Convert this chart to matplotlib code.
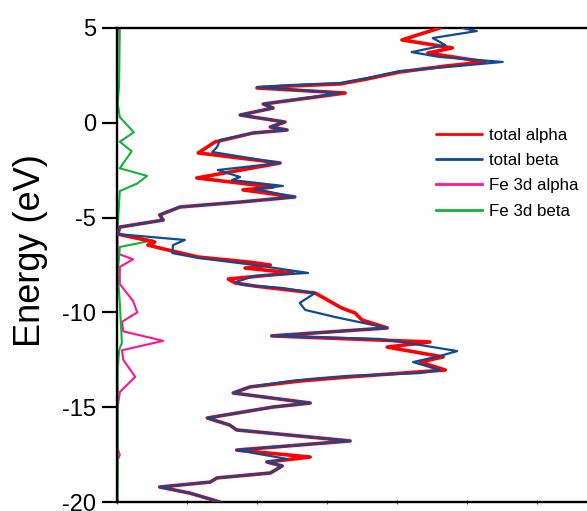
import matplotlib
matplotlib.use("Agg")
import matplotlib.pyplot as plt
import numpy as np

plt.rcParams['font.family'] = ['Liberation Sans', 'DejaVu Sans']

# ---- data (DOS in arbitrary units, energy in eV) ----
alpha_dos = [4.61, 4.07, 4.79, 4.44, 5.26, 4.71, 4.04, 3.57, 3.19, 2.47, 2.00, 3.26,
             2.09, 2.23, 1.76, 2.40, 2.19, 2.43, 1.94, 1.40, 1.16, 2.33, 1.14, 2.23,
             1.80, 2.54, 1.76, 0.90, 0.61, 0.66, 0.04, 0.01, 0.54, 0.44, 0.73, 1.16,
             1.87, 2.19, 1.83, 2.51, 2.04, 1.59, 1.69, 1.97, 2.83, 3.01, 3.21, 3.40,
             3.50, 3.86, 2.21, 4.47, 3.86, 4.66, 4.33, 4.69, 3.29, 2.61, 1.90, 1.66,
             2.76, 2.23, 1.29, 1.61, 1.71, 3.33, 1.71, 2.76, 2.14, 2.36, 2.19, 1.43,
             1.33, 0.61, 1.04, 1.47]
alpha_energy = [5.00, 4.37, 3.95, 3.68, 3.21, 3.00, 2.68, 2.31, 2.05, 1.94, 1.84, 1.57,
                0.99, 0.78, 0.41, 0.04, -0.22, -0.38, -0.54, -1.01, -1.59, -2.12, -2.91, -3.39,
                -3.54, -3.91, -4.18, -4.44, -4.86, -5.13, -5.50, -5.87, -6.29, -6.45, -6.71, -7.08,
                -7.34, -7.50, -7.66, -7.92, -8.08, -8.24, -8.45, -8.61, -8.98, -9.35, -9.77, -10.03,
                -10.40, -10.82, -11.24, -11.56, -11.83, -12.35, -12.62, -13.04, -13.41, -13.62, -13.93, -14.25,
                -14.78, -14.99, -15.57, -15.94, -16.20, -16.78, -17.26, -17.63, -17.89, -18.10, -18.47, -18.73,
                -18.95, -19.21, -19.53, -20.00]

beta_dos = [4.93, 5.14, 4.51, 4.69, 4.21, 4.61, 5.51, 4.71, 4.04, 3.57, 3.19, 2.47,
            2.00, 3.19, 2.09, 2.23, 1.76, 2.40, 2.19, 2.43, 1.94, 1.47, 1.43, 1.36,
            2.33, 1.44, 1.76, 1.64, 2.37, 1.97, 2.54, 1.76, 0.90, 0.61, 0.66, 0.04,
            0.01, 0.97, 0.80, 0.79, 1.16, 1.97, 2.73, 1.97, 1.69, 1.79, 2.36, 2.83,
            2.61, 2.69, 3.11, 3.86, 2.21, 3.76, 4.33, 4.86, 4.61, 4.23, 4.61, 4.33,
            3.29, 2.76, 2.47, 1.90, 1.66, 2.76, 2.23, 1.29, 1.61, 1.71, 3.33, 1.71,
            2.43, 2.14, 2.36, 2.19, 1.43, 1.33, 0.61, 1.04, 1.47]
beta_energy = [5.00, 4.84, 4.47, 4.10, 3.73, 3.47, 3.21, 2.94, 2.73, 2.36, 2.10, 1.99,
               1.89, 1.57, 0.99, 0.78, 0.41, 0.04, -0.22, -0.38, -0.54, -0.91, -1.28, -1.54,
               -2.12, -2.49, -2.86, -3.02, -3.33, -3.49, -3.91, -4.18, -4.44, -4.86, -5.13, -5.50,
               -5.87, -6.18, -6.45, -6.87, -7.13, -7.50, -7.92, -8.08, -8.40, -8.55, -8.71, -8.98,
               -9.50, -9.87, -10.24, -10.82, -11.24, -11.40, -11.72, -12.04, -12.30, -12.62, -13.04, -13.20,
               -13.35, -13.51, -13.62, -13.93, -14.25, -14.78, -14.99, -15.57, -15.94, -16.20, -16.78, -17.26,
               -17.73, -17.89, -18.10, -18.47, -18.73, -18.95, -19.21, -19.53, -20.00]

fe_alpha_dos = [0.01, 0.00, 0.00, 0.01, 0.23, 0.04, 0.04, 0.23, 0.29, 0.07, 0.09, 0.66,
                0.07, 0.09, 0.26, 0.04, 0.01, 0.01, 0.04, 0.01, 0.00]
fe_alpha_energy = [5.00, 2.00, -4.00, -6.90, -7.20, -7.60, -8.50, -9.40, -10.00, -10.50, -11.00, -11.50,
                   -12.00, -12.50, -13.40, -14.20, -15.00, -17.20, -17.50, -17.80, -20.00]

fe_beta_dos = [0.04, 0.03, 0.01, 0.04, 0.24, 0.04, 0.21, 0.04, 0.43, 0.29, 0.04, 0.01,
               0.04, 0.51, 0.04, 0.01, 0.04, 0.07, 0.03, 0.01, 0.01]
fe_beta_energy = [5.00, 2.00, 1.00, 0.30, -0.50, -1.00, -1.50, -2.40, -2.80, -3.20, -3.60, -5.50,
                  -5.90, -6.20, -6.55, -8.00, -9.50, -11.60, -12.00, -13.00, -20.00]

series_labels = ['total alpha', 'total beta', 'Fe 3d alpha', 'Fe 3d beta']
y_ticks = [-20, -15, -10, -5, 0, 5]

# ---- figure ----
fig = plt.figure(figsize=(5.87, 5.11), dpi=100)
ax = fig.add_axes([117/587, 1 - 502/511, 1 - 117/587 + 0.01, (502 - 28)/511])

l1, = ax.plot(alpha_dos, alpha_energy, color='#FF0000', lw=2.6, solid_joinstyle='round',
              solid_capstyle='round', zorder=3)
l2, = ax.plot(beta_dos, beta_energy, color='#0F4A92', lw=1.6, solid_joinstyle='round',
              solid_capstyle='round', zorder=4)
l3, = ax.plot(fe_alpha_dos, fe_alpha_energy, color='#FF1493', lw=1.5, solid_joinstyle='round', zorder=2)
l4, = ax.plot(fe_beta_dos, fe_beta_energy, color='#13B23A', lw=1.5, solid_joinstyle='round', zorder=2)

ax.set_ylim(-20, 5)
ax.set_xlim(0, (587 - 117) / 70 + 0.01 * 587 / 70)
ax.set_yticks(y_ticks)
ax.set_yticklabels([str(t) for t in y_ticks])
ax.set_xticks(np.arange(0, 7))
ax.set_xticklabels([])
ax.tick_params(axis='y', direction='out', length=11, width=1.6, labelsize=17, pad=4)
ax.tick_params(axis='x', direction='inout', length=3, width=0.8, color='#555555')
ax.spines['right'].set_visible(False)
for s in ['left', 'top', 'bottom']:
    ax.spines[s].set_linewidth(1.7)
ax.set_ylabel('Energy (eV)', fontsize=26)
ax.yaxis.set_label_coords(-0.145, 0.53)

leg = fig.legend([l1, l2, l3, l4], series_labels, loc='upper left',
                 bbox_to_anchor=(436/587, 1 - 128/511), frameon=False, fontsize=12.2,
                 handlelength=2.7, handletextpad=0.4, labelspacing=0.6,
                 borderpad=0, borderaxespad=0)
for h in leg.get_lines():
    h.set_linewidth(2.0)

fig.savefig('out.png', dpi=100)
